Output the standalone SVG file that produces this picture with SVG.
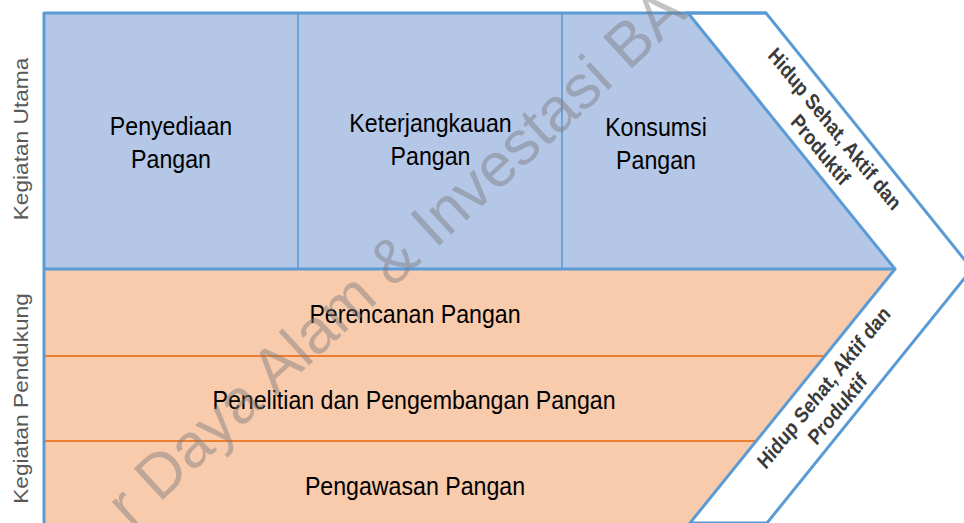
<svg xmlns="http://www.w3.org/2000/svg" width="964" height="523" viewBox="0 0 964 523">
<style>
.t{font-family:"Liberation Sans",Arial,sans-serif;font-size:26.5px;fill:#000;text-anchor:middle}
.side{font-family:"Liberation Sans",Arial,sans-serif;font-size:22.7px;fill:#595959;text-anchor:middle}
.chev{font-family:"Liberation Sans",Arial,sans-serif;font-size:22px;font-weight:bold;fill:#3a3a3a;text-anchor:middle}
.wm{font-family:"Liberation Sans",Arial,sans-serif;font-size:62px;fill:#7a7a7a;fill-opacity:0.45}
.blue{fill:#b4c7e7}
.org{fill:#f8cbad}
.bl{stroke:#5b9bd5;fill:none;stroke-width:3}
.bl2{stroke:#5b9bd5;fill:none;stroke-width:1.6}
.ol{stroke:#ed7d31;stroke-width:2;fill:none}
</style>
<rect width="964" height="523" fill="#ffffff"/>
<g id="kegiatan-utama">
  <polygon class="blue" points="44,13 688,13 895,269 44,269"/>
  <line class="bl2" x1="298" y1="13" x2="298" y2="269"/>
  <line class="bl2" x1="562" y1="13" x2="562" y2="269"/>
</g>
<g id="kegiatan-pendukung">
  <polygon class="org" points="44,269 895,269 690,523 44,523"/>
  <line class="ol" x1="44" y1="356" x2="825" y2="356"/>
  <line class="ol" x1="44" y1="441" x2="756" y2="441"/>
</g>
<g id="tujuan">
  <polygon points="688,13 766,13 972,269 767,523 690,523 895,269" fill="#ffffff" stroke="#5b9bd5" stroke-width="3"/>
</g>
<g id="frame">
  <line class="bl" x1="44" y1="13" x2="766" y2="13"/>
  <line class="bl" x1="44" y1="12" x2="44" y2="523"/>
  <line class="bl" x1="44" y1="269" x2="895" y2="269"/>
</g>
<g id="labels">
  <g id="penyediaan"><text class="t" transform="translate(171,135) scale(0.875,1)"><tspan x="0" y="0">Penyediaan</tspan><tspan x="0" y="33">Pangan</tspan></text></g>
  <g id="keterjangkauan"><text class="t" transform="translate(430.5,132) scale(0.875,1)"><tspan x="0" y="0">Keterjangkauan</tspan><tspan x="0" y="33">Pangan</tspan></text></g>
  <g id="konsumsi"><text class="t" transform="translate(656,136) scale(0.875,1)"><tspan x="0" y="0">Konsumsi</tspan><tspan x="0" y="33">Pangan</tspan></text></g>
  <g id="perencanaan"><text class="t" transform="translate(415,323) scale(0.875,1)">Perencanan Pangan</text></g>
  <g id="penelitian"><text class="t" transform="translate(414,409) scale(0.875,1)">Penelitian dan Pengembangan Pangan</text></g>
  <g id="pengawasan"><text class="t" transform="translate(415,495) scale(0.875,1)">Pengawasan Pangan</text></g>
  <g id="label-utama"><text class="side" transform="translate(28,139) scale(0.885,1) rotate(-90)">Kegiatan Utama</text></g>
  <g id="label-pendukung"><text class="side" transform="translate(28,398.5) scale(0.885,1) rotate(-90)">Kegiatan Pendukung</text></g>
  <g id="tujuan-atas"><text class="chev" transform="translate(826,138) scale(0.885,1) rotate(47.6) scale(0.9,1)"><tspan x="0" y="-6">Hidup Sehat, Aktif dan</tspan><tspan x="5" y="20">Produktif</tspan></text></g>
  <g id="tujuan-bawah"><text class="chev" transform="translate(832.5,396.6) scale(0.885,1) rotate(-47.6) scale(0.9,1)"><tspan x="0" y="-6">Hidup Sehat, Aktif dan</tspan><tspan x="-6" y="20">Produktif</tspan></text></g>
</g>
<g id="connectors"/>
<g id="watermark"><text class="wm" transform="translate(131,529) rotate(-42.6)">r Daya Alam &amp; Investasi BA</text></g>
</svg>
